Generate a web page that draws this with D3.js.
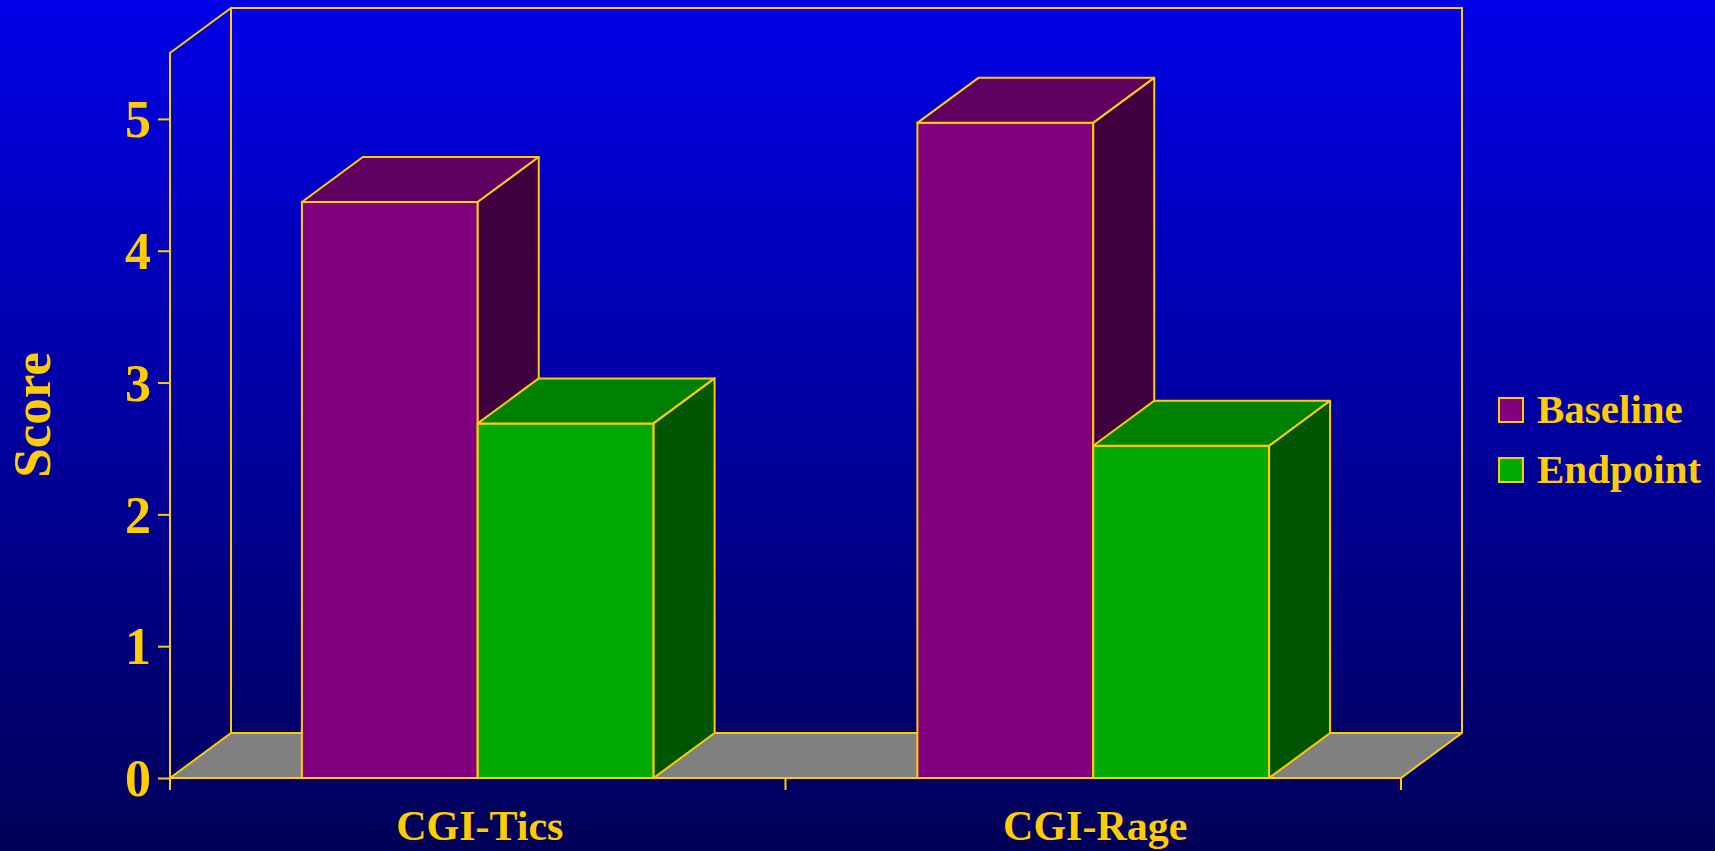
<!DOCTYPE html>
<html>
<head>
<meta charset="utf-8">
<script src="https://cdn.jsdelivr.net/npm/d3@7"></script>
<style>
  html, body { margin: 0; padding: 0; background: #000080; overflow: hidden; }
  svg { display: block; }
  text { font-family: "Liberation Serif", "Times New Roman", serif; font-weight: bold; fill: #FFCC00; }
</style>
</head>
<body>
<script>
// Chart data
const categories = ["CGI-Tics", "CGI-Rage"];
const seriesNames = ["Baseline", "Endpoint"];
const baselineValues = [4.37, 4.97];
const endpointValues = [2.69, 2.52];
const yTicks = [0, 1, 2, 3, 4, 5];

const W = 1715, H = 851;
const gold = "#FFCC00";
const faces = {
  Baseline: { front: "#800080", top: "#600060", side: "#400040" },
  Endpoint: { front: "#00AA00", top: "#008000", side: "#005500" }
};
const depthX = 61, depthY = 45;

const svg = d3.select("body").append("svg").attr("width", W).attr("height", H);

// background gradient
const defs = svg.append("defs");
const grad = defs.append("linearGradient").attr("id", "bg").attr("x1", 0).attr("y1", 0).attr("x2", 0).attr("y2", 1);
grad.append("stop").attr("offset", "0%").attr("stop-color", "#0000E8");
grad.append("stop").attr("offset", "100%").attr("stop-color", "#000058");
svg.append("rect").attr("width", W).attr("height", H).attr("fill", "url(#bg)");

// scales
const x = d3.scaleBand().domain(categories).range([170, 1401]).padding(0);
const xs = d3.scaleBand().domain(seriesNames).range([0, x.bandwidth()]).paddingInner(0).paddingOuter(0.75);
const y = d3.scaleLinear().domain([0, 5.5]).range([778, 53]);

const x0 = x.range()[0], x1 = x.range()[1];
const yTop = y(5.5), y0 = y(0);
const line = (pts) => "M" + pts.map(p => p.join(",")).join("L");

// floor
svg.append("path")
  .attr("d", line([[x0, y0], [x1, y0], [x1 + depthX, y0 - depthY], [x0 + depthX, y0 - depthY]]) + "Z")
  .attr("fill", "#808080").attr("stroke", gold).attr("stroke-width", 2).attr("stroke-linejoin", "round");

// back and side walls (outline only)
const walls = svg.append("g").attr("fill", "none").attr("stroke", gold).attr("stroke-width", 2);
walls.append("path").attr("d", line([
  [x0 + depthX, y0 - depthY], [x0 + depthX, yTop - depthY], [x1 + depthX, yTop - depthY], [x1 + depthX, y0 - depthY]
]));
walls.append("path").attr("d", line([[x0, y0], [x0, yTop], [x0 + depthX, yTop - depthY]]));

// bars
const rows = [];
categories.forEach((c, i) => {
  rows.push({ cat: c, s: "Baseline", v: baselineValues[i] });
  rows.push({ cat: c, s: "Endpoint", v: endpointValues[i] });
});

const barG = svg.append("g").attr("stroke", gold).attr("stroke-width", 2).attr("stroke-linejoin", "round");
rows.forEach(d => {
  const bx0 = x(d.cat) + xs(d.s);
  const bx1 = bx0 + xs.bandwidth();
  const by = y(d.v);
  const col = faces[d.s];
  barG.append("path").attr("fill", col.front)
    .attr("d", line([[bx0, y0], [bx0, by], [bx1, by], [bx1, y0]]) + "Z");
  barG.append("path").attr("fill", col.top)
    .attr("d", line([[bx0, by], [bx0 + depthX, by - depthY], [bx1 + depthX, by - depthY], [bx1, by]]) + "Z");
  barG.append("path").attr("fill", col.side)
    .attr("d", line([[bx1, by], [bx1 + depthX, by - depthY], [bx1 + depthX, y0 - depthY], [bx1, y0]]) + "Z");
});

// front floor edge drawn on top
svg.append("line").attr("x1", x0).attr("x2", x1).attr("y1", y0).attr("y2", y0)
  .attr("stroke", gold).attr("stroke-width", 2);

// y axis
const yAxis = svg.append("g").attr("transform", `translate(${x0},0)`)
  .call(d3.axisLeft(y).tickValues(yTicks).tickSize(12).tickPadding(8).tickFormat(d3.format("d")));
yAxis.select(".domain").remove();
yAxis.selectAll(".tick line").attr("stroke", gold).attr("stroke-width", 2);
yAxis.selectAll(".tick text")
  .attr("fill", gold).attr("font-size", 52).attr("font-family", "Liberation Serif, serif")
  .attr("font-weight", "bold").attr("dy", "0.34em").attr("x", -19);

// x axis ticks at category boundaries
const xBounds = [x0, x(categories[1]), x1];
svg.append("g").selectAll("line").data(xBounds).join("line")
  .attr("x1", d => d).attr("x2", d => d).attr("y1", y0).attr("y2", y0 + 12)
  .attr("stroke", gold).attr("stroke-width", 2);

// category labels
svg.append("g").selectAll("text").data(categories).join("text")
  .attr("x", d => x(d) + x.bandwidth() / 2 + 2)
  .attr("y", 840)
  .attr("text-anchor", "middle")
  .attr("font-size", 42)
  .text(d => d);

// y axis title
svg.append("text")
  .attr("transform", "translate(50,415) rotate(-90)")
  .attr("text-anchor", "middle")
  .attr("font-size", 53)
  .text("Score");

// legend
const legend = svg.append("g");
seriesNames.forEach((s, i) => {
  const ly = 398 + i * 60;
  legend.append("rect").attr("x", 1499).attr("y", ly).attr("width", 24).attr("height", 24)
    .attr("fill", faces[s].front).attr("stroke", gold).attr("stroke-width", 2);
  legend.append("text").attr("x", 1537).attr("y", ly + 25).attr("font-size", 41).text(s);
});
</script>
</body>
</html>
